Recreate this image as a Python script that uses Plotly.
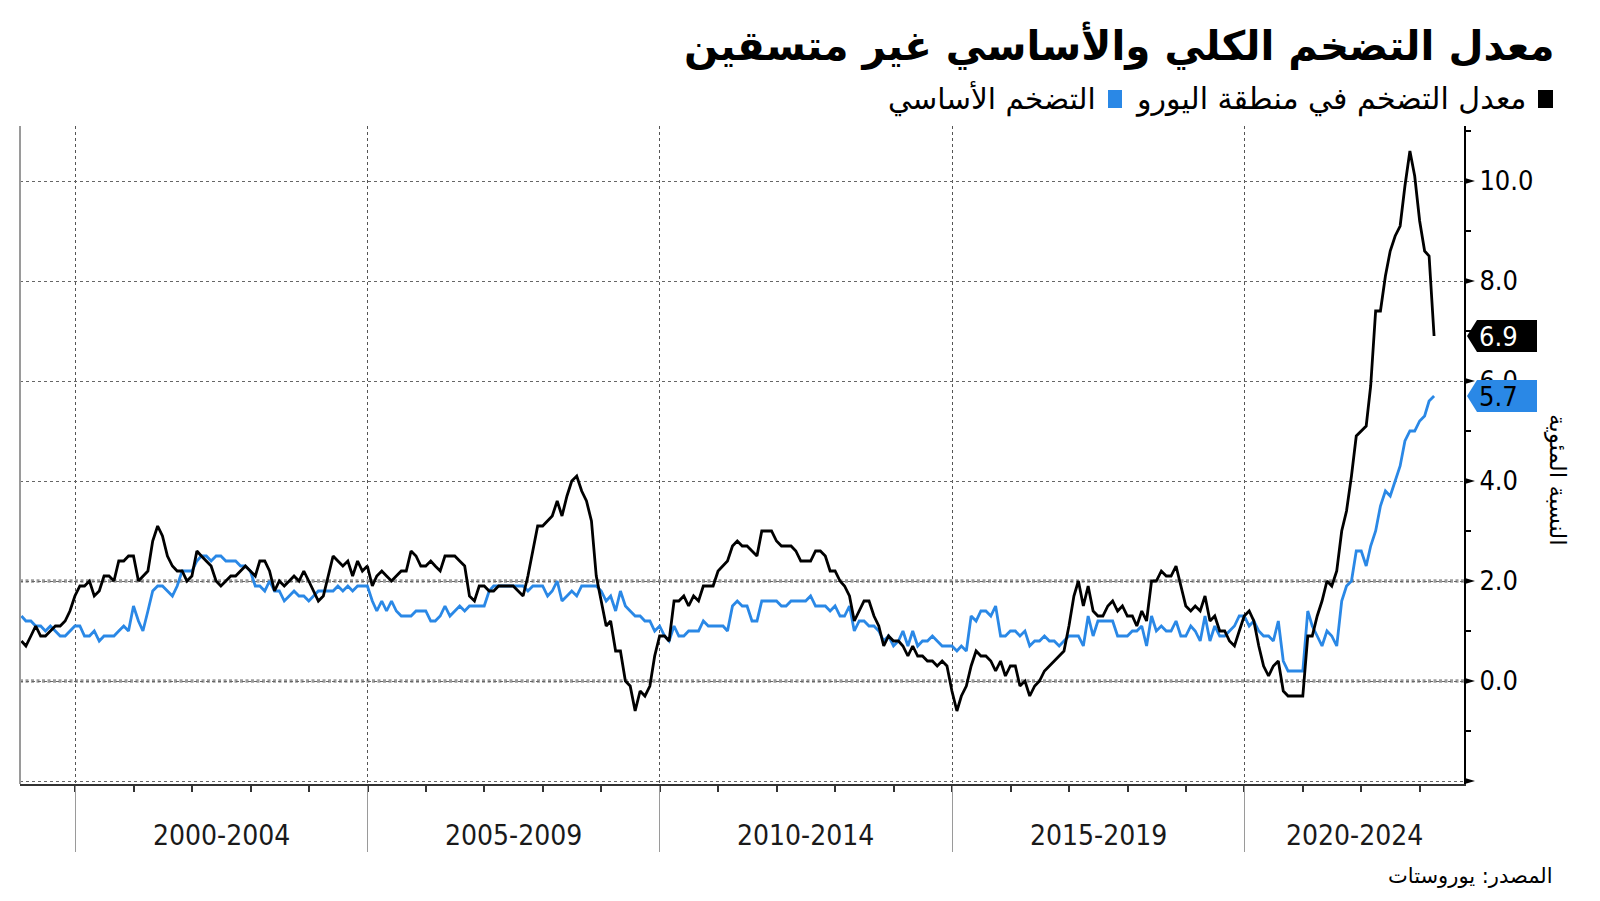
import pandas as pd
import plotly.graph_objects as go

# ---------------- data (monthly, Jan 1999 - Mar 2023) ----------------
start_month = "1999-01-01"

headline = [
    0.8, 0.7, 0.9, 1.1, 0.9, 0.9, 1.0, 1.1, 1.1, 1.2, 1.4, 1.7,   # 1999
    1.9, 1.9, 2.0, 1.7, 1.8, 2.1, 2.1, 2.0, 2.4, 2.4, 2.5, 2.5,   # 2000
    2.0, 2.1, 2.2, 2.8, 3.1, 2.9, 2.5, 2.3, 2.2, 2.2, 2.0, 2.1,   # 2001
    2.6, 2.5, 2.4, 2.3, 2.0, 1.9, 2.0, 2.1, 2.1, 2.2, 2.3, 2.2,   # 2002
    2.1, 2.4, 2.4, 2.2, 1.8, 2.0, 1.9, 2.0, 2.1, 2.0, 2.2, 2.0,   # 2003
    1.8, 1.6, 1.7, 2.1, 2.5, 2.4, 2.3, 2.4, 2.1, 2.4, 2.2, 2.3,   # 2004
    1.9, 2.1, 2.2, 2.1, 2.0, 2.1, 2.2, 2.2, 2.6, 2.5, 2.3, 2.3,   # 2005
    2.4, 2.3, 2.2, 2.5, 2.5, 2.5, 2.4, 2.3, 1.7, 1.6, 1.9, 1.9,   # 2006
    1.8, 1.8, 1.9, 1.9, 1.9, 1.9, 1.8, 1.7, 2.1, 2.6, 3.1, 3.1,   # 2007
    3.2, 3.3, 3.6, 3.3, 3.7, 4.0, 4.1, 3.8, 3.6, 3.2, 2.1, 1.6,   # 2008
    1.1, 1.2, 0.6, 0.6, 0.0, -0.1, -0.6, -0.2, -0.3, -0.1, 0.5, 0.9,  # 2009
    0.9, 0.8, 1.6, 1.6, 1.7, 1.5, 1.7, 1.6, 1.9, 1.9, 1.9, 2.2,   # 2010
    2.3, 2.4, 2.7, 2.8, 2.7, 2.7, 2.6, 2.5, 3.0, 3.0, 3.0, 2.8,   # 2011
    2.7, 2.7, 2.7, 2.6, 2.4, 2.4, 2.4, 2.6, 2.6, 2.5, 2.2, 2.2,   # 2012
    2.0, 1.9, 1.7, 1.2, 1.4, 1.6, 1.6, 1.3, 1.1, 0.7, 0.9, 0.8,   # 2013
    0.8, 0.7, 0.5, 0.7, 0.5, 0.5, 0.4, 0.4, 0.3, 0.4, 0.3, -0.2,  # 2014
    -0.6, -0.3, -0.1, 0.3, 0.6, 0.5, 0.5, 0.4, 0.2, 0.4, 0.1, 0.3,  # 2015
    0.3, -0.1, 0.0, -0.3, -0.1, 0.0, 0.2, 0.3, 0.4, 0.5, 0.6, 1.1,  # 2016
    1.7, 2.0, 1.5, 1.9, 1.4, 1.3, 1.3, 1.5, 1.6, 1.4, 1.5, 1.3,   # 2017
    1.3, 1.1, 1.4, 1.2, 2.0, 2.0, 2.2, 2.1, 2.1, 2.3, 1.9, 1.5,   # 2018
    1.4, 1.5, 1.4, 1.7, 1.2, 1.3, 1.0, 1.0, 0.8, 0.7, 1.0, 1.3,   # 2019
    1.4, 1.2, 0.7, 0.3, 0.1, 0.3, 0.4, -0.2, -0.3, -0.3, -0.3, -0.3,  # 2020
    0.9, 0.9, 1.3, 1.6, 2.0, 1.9, 2.2, 3.0, 3.4, 4.1, 4.9, 5.0,   # 2021
    5.1, 5.9, 7.4, 7.4, 8.1, 8.6, 8.9, 9.1, 9.9, 10.6, 10.1, 9.2,  # 2022
    8.6, 8.5, 6.9,                                                # 2023
]

core = [
    1.3, 1.2, 1.2, 1.1, 1.1, 1.0, 1.1, 1.0, 0.9, 0.9, 1.0, 1.1,   # 1999
    1.1, 0.9, 0.9, 1.0, 0.8, 0.9, 0.9, 0.9, 1.0, 1.1, 1.0, 1.5,   # 2000
    1.2, 1.0, 1.4, 1.8, 1.9, 1.9, 1.8, 1.7, 1.9, 2.2, 2.2, 2.2,   # 2001
    2.4, 2.5, 2.5, 2.4, 2.5, 2.5, 2.4, 2.4, 2.4, 2.3, 2.3, 2.2,   # 2002
    1.9, 1.9, 1.8, 2.0, 1.8, 1.8, 1.6, 1.7, 1.8, 1.7, 1.7, 1.6,   # 2003
    1.7, 1.8, 1.8, 1.8, 1.8, 1.9, 1.8, 1.9, 1.8, 1.9, 1.9, 1.9,   # 2004
    1.6, 1.4, 1.6, 1.4, 1.6, 1.4, 1.3, 1.3, 1.3, 1.4, 1.4, 1.4,   # 2005
    1.2, 1.2, 1.3, 1.5, 1.3, 1.4, 1.5, 1.4, 1.5, 1.5, 1.5, 1.5,   # 2006
    1.8, 1.9, 1.9, 1.9, 1.9, 1.9, 1.9, 1.9, 1.8, 1.9, 1.9, 1.9,   # 2007
    1.7, 1.8, 2.0, 1.6, 1.7, 1.8, 1.7, 1.9, 1.9, 1.9, 1.9, 1.8,   # 2008
    1.6, 1.7, 1.4, 1.8, 1.5, 1.4, 1.3, 1.3, 1.2, 1.2, 1.0, 1.1,   # 2009
    0.9, 0.8, 1.1, 0.9, 0.9, 1.0, 1.0, 1.0, 1.2, 1.1, 1.1, 1.1,   # 2010
    1.1, 1.0, 1.5, 1.6, 1.5, 1.5, 1.2, 1.2, 1.6, 1.6, 1.6, 1.6,   # 2011
    1.5, 1.5, 1.6, 1.6, 1.6, 1.6, 1.7, 1.5, 1.5, 1.5, 1.4, 1.5,   # 2012
    1.3, 1.3, 1.5, 1.0, 1.2, 1.2, 1.1, 1.1, 1.0, 0.8, 0.9, 0.7,   # 2013
    0.8, 1.0, 0.7, 1.0, 0.7, 0.8, 0.8, 0.9, 0.8, 0.7, 0.7, 0.7,   # 2014
    0.6, 0.7, 0.6, 1.3, 1.2, 1.4, 1.4, 1.3, 1.5, 0.9, 0.9, 1.0,   # 2015
    1.0, 0.9, 1.0, 0.7, 0.8, 0.8, 0.9, 0.8, 0.8, 0.7, 0.8, 0.9,   # 2016
    0.9, 0.9, 0.7, 1.3, 0.9, 1.2, 1.2, 1.2, 1.2, 0.9, 0.9, 0.9,   # 2017
    1.0, 1.0, 1.1, 0.7, 1.3, 1.0, 1.1, 1.0, 1.0, 1.2, 0.9, 0.9,   # 2018
    1.1, 1.0, 0.8, 1.3, 0.8, 1.1, 0.9, 0.9, 1.0, 1.1, 1.3, 1.3,   # 2019
    1.1, 1.2, 1.0, 0.9, 0.9, 0.8, 1.2, 0.4, 0.2, 0.2, 0.2, 0.2,   # 2020
    1.4, 1.1, 0.9, 0.7, 1.0, 0.9, 0.7, 1.6, 1.9, 2.0, 2.6, 2.6,   # 2021
    2.3, 2.7, 3.0, 3.5, 3.8, 3.7, 4.0, 4.3, 4.8, 5.0, 5.0, 5.2,   # 2022
    5.3, 5.6, 5.7,                                                # 2023
]

y_tick_values = [-2, 0, 2, 4, 6, 8, 10]
y_tick_labels = ["", "0.0", "2.0", "4.0", "6.0", "8.0", "10.0"]
y_minor_values = [-1, 1, 3, 5, 7, 9, 11]
group_labels = ["2000-2004", "2005-2009", "2010-2014", "2015-2019", "2020-2024"]
group_starts = ["2000-01-01", "2005-01-01", "2010-01-01", "2015-01-01", "2020-01-01"]
group_ends = ["2005-01-01", "2010-01-01", "2015-01-01", "2020-01-01", "2025-01-01"]
year_starts = [f"{y}-01-01" for y in range(2000, 2024)]

title_text = "معدل التضخم الكلي والأساسي غير متسقين"
legend_headline = "معدل التضخم في منطقة اليورو"
legend_core = "التضخم الأساسي"
y_title = "النسبة المئوية"
source_text = "المصدر: يوروستات"

# ---------------- style / layout ----------------
W, H = 1600, 901
PL, PR, PT, PB = 20, 1464, 126, 784
X_RANGE = ["1999-01-22", "2023-10-04"]
Y_RANGE = [-2.06, 11.1]
BLUE = "#2a88e6"
NUM_FONT = "DejaVu Sans Condensed, Liberation Sans Narrow, DejaVu Sans"
AR_FONT = "DejaVu Sans"


def xp(px):
    return (px - PL) / (PR - PL)


def yp(py):
    return (PB - py) / (PB - PT)


UNIT_PX = (PB - PT) / (Y_RANGE[1] - Y_RANGE[0])

dates = pd.date_range(start_month, periods=len(headline), freq="MS") + pd.offsets.MonthEnd(0)

fig = go.Figure()
fig.add_trace(go.Scatter(x=dates, y=core, mode="lines",
                         line=dict(color=BLUE, width=2.8), hoverinfo="skip", showlegend=False))
fig.add_trace(go.Scatter(x=dates, y=headline, mode="lines",
                         line=dict(color="black", width=2.8), hoverinfo="skip", showlegend=False))

# thick dotted reference lines at 0 and 2
for v in (0, 2):
    fig.add_hline(y=v, line=dict(color="#9c9c9c", width=3.5, dash="3px,2.5px"), layer="below")

shapes = []
# left gray border
shapes.append(dict(type="line", xref="paper", yref="paper", x0=0, x1=0, y0=0, y1=1,
                   line=dict(color="#9a9a9a", width=2), layer="above"))
# triangles at major y ticks
th = 3.2 / UNIT_PX
for v in y_tick_values:
    shapes.append(dict(type="path", xref="paper", yref="y",
                       path=f"M {xp(PR)} {v + th} L {xp(PR + 11)} {v} L {xp(PR)} {v - th} Z",
                       fillcolor="black", line=dict(width=0), layer="above"))

# value tags
tag_h = 16 / UNIT_PX
for val, fill, tcol in ((headline[-1], "black", "white"), (core[-1], BLUE, "black")):
    shapes.append(dict(type="path", xref="paper", yref="y",
                       path=(f"M {xp(1467)} {val} L {xp(1477)} {val + tag_h} L {xp(1537)} {val + tag_h} "
                             f"L {xp(1537)} {val - tag_h} L {xp(1477)} {val - tag_h} Z"),
                       fillcolor=fill, line=dict(width=0), layer="above"))
    fig.add_annotation(xref="paper", yref="y", x=xp(1477), y=val, xanchor="left", yanchor="middle",
                       text=f"{val:.1f}", showarrow=False,
                       font=dict(family=NUM_FONT, size=27, color=tcol))

# legend squares
shapes.append(dict(type="rect", xref="paper", yref="paper", x0=xp(1538), x1=xp(1553), y0=yp(108), y1=yp(90),
                   fillcolor="black", line=dict(width=0)))
shapes.append(dict(type="rect", xref="paper", yref="paper", x0=xp(1108), x1=xp(1122), y0=yp(108), y1=yp(90),
                   fillcolor=BLUE, line=dict(width=0)))

fig.update_layout(shapes=list(fig.layout.shapes) + shapes)

# title, legend texts, source, y-title
fig.add_annotation(xref="paper", yref="paper", x=xp(1557), y=yp(46), xanchor="right", yanchor="middle",
                   text=f"<b>{title_text}</b>", showarrow=False,
                   font=dict(family=AR_FONT, size=40.4, color="black"))
fig.add_annotation(xref="paper", yref="paper", x=xp(1528), y=yp(99), xanchor="right", yanchor="middle",
                   text=legend_headline, showarrow=False, font=dict(family=AR_FONT, size=30, color="black"))
fig.add_annotation(xref="paper", yref="paper", x=xp(1098), y=yp(99), xanchor="right", yanchor="middle",
                   text=legend_core, showarrow=False, font=dict(family=AR_FONT, size=29.5, color="black"))
fig.add_annotation(xref="paper", yref="paper", x=xp(1555), y=yp(876), xanchor="right", yanchor="middle",
                   text=source_text, showarrow=False, font=dict(family=AR_FONT, size=21, color="black"))
fig.add_annotation(xref="paper", yref="paper", x=xp(1557), y=yp(480), xanchor="center", yanchor="middle",
                   text=y_title, textangle=90, showarrow=False, font=dict(family=AR_FONT, size=23, color="black"))

# group labels centered in the visible part of each 5-year block
x_lo, x_hi = pd.Timestamp(X_RANGE[0]), pd.Timestamp(X_RANGE[1])
for lab, s, e in zip(group_labels, group_starts, group_ends):
    s, e = max(pd.Timestamp(s), x_lo), min(pd.Timestamp(e), x_hi)
    mid = s + (e - s) / 2
    fig.add_annotation(xref="x", yref="paper", x=mid, y=yp(835), xanchor="center", yanchor="middle",
                       text=lab, showarrow=False, font=dict(family=NUM_FONT, size=28, color="#1a1a1a"))

fig.update_layout(
    width=W, height=H,
    margin=dict(l=PL, r=W - PR, t=PT, b=H - PB, pad=0),
    paper_bgcolor="white", plot_bgcolor="white",
    showlegend=False,
    xaxis=dict(
        type="date", range=X_RANGE, zeroline=False,
        showgrid=True, gridcolor="#555555", griddash="dot", gridwidth=1,
        tickmode="array", tickvals=group_starts, showticklabels=False,
        ticks="outside", ticklen=66, tickwidth=1.2, tickcolor="#9a9a9a",
        showline=True, linecolor="#333333", linewidth=2,
        minor=dict(tickmode="array", tickvals=year_starts, ticks="outside", ticklen=6,
                   tickwidth=1.5, tickcolor="#333333", showgrid=False),
    ),
    yaxis=dict(
        side="right", range=Y_RANGE, zeroline=False,
        tickmode="array", tickvals=y_tick_values, ticktext=y_tick_labels,
        showgrid=True, gridcolor="#666666", griddash="dot", gridwidth=1,
        ticks="", ticklabelstandoff=8,
        tickfont=dict(family=NUM_FONT, size=27, color="black"),
        showline=True, linecolor="black", linewidth=2,
        minor=dict(tickmode="array", tickvals=y_minor_values, ticks="outside", ticklen=5,
                   tickwidth=1.5, tickcolor="black", showgrid=False),
    ),
)

fig.write_html("out.html")
